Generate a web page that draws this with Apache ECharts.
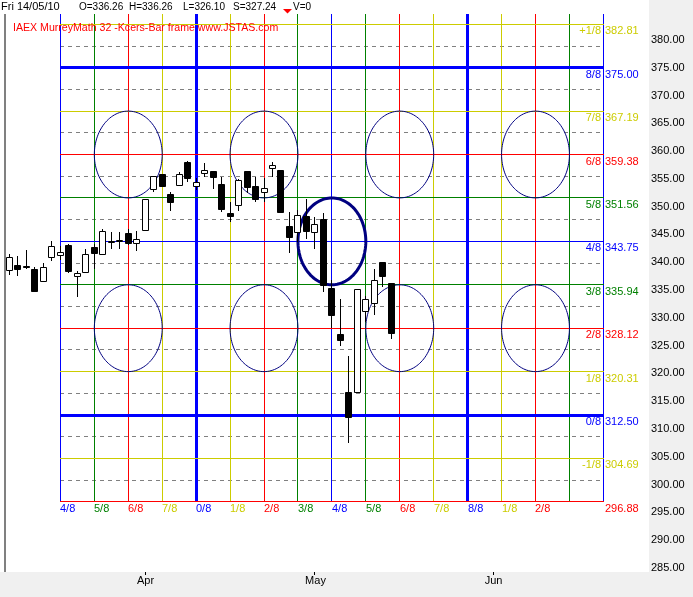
<!DOCTYPE html>
<html><head><meta charset="utf-8">
<script src="https://cdn.jsdelivr.net/npm/echarts@6/dist/echarts.min.js"></script>
<style>html,body{margin:0;padding:0;background:#F0F0F0}#c{width:693px;height:597px}</style>
</head><body><div id="c"></div>
<script>
// ---- data (bar index 0 = first bar on the left; weekday trading bars) ----
const barOpen  = [338.60,339.50,339.40,338.78,336.67,340.88,341.35,343.09,337.46,338.18,342.68,341.42,343.74,343.97,345.20,343.45,345.74,353.12,355.87,352.27,353.89,357.98,353.71,356.10,356.41,354.07,348.80,350.24,356.41,353.71,352.58,356.90,356.59,346.51,345.38,348.31,345.38,347.72,335.36,327.08,316.64,316.59,331.27,332.60,340.04,336.26];
const barHigh  = [341.47,341.11,342.19,339.08,339.85,343.81,342.97,343.22,338.47,342.37,343.27,345.97,345.43,345.38,345.97,345.61,351.32,355.46,355.87,352.58,356.18,358.21,355.21,357.80,356.41,355.39,350.89,354.92,356.41,355.39,355.15,358.08,356.59,348.98,349.39,351.37,348.19,348.91,336.80,333.38,323.12,335.18,333.97,338.78,340.04,336.26];
const barLow   = [337.75,337.52,338.72,334.69,336.60,340.27,340.39,338.11,333.79,338.18,338.78,341.42,342.32,342.32,343.15,342.07,345.74,352.69,353.48,349.27,353.89,354.38,352.99,355.39,353.12,349.09,347.23,349.21,352.45,350.89,350.89,355.39,348.98,341.71,343.63,344.12,342.32,334.69,328.10,324.97,307.52,316.59,329.29,330.55,335.48,326.10];
const barClose = [340.88,338.83,339.33,334.87,339.08,342.97,341.78,338.47,338.00,341.42,341.60,345.56,343.78,344.01,343.51,344.12,351.32,355.46,353.77,350.78,355.82,355.21,354.38,356.54,355.39,349.63,348.31,354.74,353.59,351.32,353.30,357.49,348.98,344.48,348.49,345.67,346.82,335.84,330.55,326.00,312.20,335.18,333.38,336.80,337.52,327.24];
const headerDate = 'Fri 14/05/10';
const headerVolume = 'V=0';
const titleText = 'IAEX MurreyMath 32 -Kcers-Bar frame www.JSTAS.com';

const monthLabels   = ['Apr', 'May', 'Jun'];
const monthBarIndex = [16, 36, 57];

const levelValues = [382.81, 375.00, 367.19, 359.38, 351.56, 343.75, 335.94, 328.12, 320.31, 312.50, 304.69, 296.88];
const levelNames  = ['+1/8', '8/8', '7/8', '6/8', '5/8', '4/8', '3/8', '2/8', '1/8', '0/8', '-1/8', ''];

const verticalBarIndex = [6, 10, 14, 18, 22, 26, 30, 34, 38, 42, 46, 50, 54, 58, 62, 66, 70];
const verticalNames    = ['4/8','5/8','6/8','7/8','0/8','1/8','2/8','3/8','4/8','5/8','6/8','7/8','8/8','1/8','2/8','',''];

const ellipseCenterBar   = [14, 30, 46, 62, 14, 30, 46, 62, 38];
const ellipseCenterValue = [359.38, 359.38, 359.38, 359.38, 328.12, 328.12, 328.12, 328.12, 343.75];
const ellipseBold        = [0, 0, 0, 0, 0, 0, 0, 0, 1];
const ellipseRadiusBars  = 4;

// ---- styles ----
const YEL = '#CCCC00', BLU = '#0000FF', GRN = '#008000', RED = '#FF0000', NAVY = '#000080';
const FAM = '"Liberation Sans", Arial, sans-serif';
const FONT = '11px ' + FAM;
const HFONT = '10px ' + FAM;
const TFONT = '10.6px ' + FAM;
const levelColors = [YEL, BLU, YEL, RED, GRN, BLU, GRN, RED, YEL, BLU, YEL, RED];
const levelWidths = [1, 3, 1, 1, 1, 1, 1, 1, 1, 3, 1, 1];
const verticalColors = [BLU, GRN, RED, YEL, BLU, YEL, RED, GRN, BLU, GRN, RED, YEL, BLU, YEL, RED, GRN, BLU];
const verticalWidths = [1, 1, 1, 1, 3, 1, 1, 1, 1, 1, 1, 1, 3, 1, 1, 1, 1];
const PLOT_TOP = 14, PLOT_BOTTOM = 572, PLOT_RIGHT = 649;

function crisp(v, w) { return (Math.round(w) % 2 === 1) ? Math.floor(v) + 0.5 : Math.round(v); }

const chart = echarts.init(document.getElementById('c'), null, {renderer: 'canvas'});
const lastBar = barOpen.length - 1;
const vStart = verticalBarIndex[0], vEnd = verticalBarIndex[verticalBarIndex.length - 1];
const levelStep = levelValues[0] - levelValues[1];

const midValues = [];
for (let i = 0; i < levelValues.length - 1; i++) midValues.push((levelValues[i] + levelValues[i + 1]) / 2);

const option = {
  backgroundColor: '#F0F0F0',
  animation: false,
  grid: {left: 6, right: 45, top: 12.13, bottom: 1.37, containLabel: false, outerBoundsMode: 'none'},
  xAxis: {type: 'value', min: -0.41, max: 75.26, show: false},
  yAxis: {
    type: 'value', position: 'right', min: 280, max: 385, interval: 5,
    axisLine: {show: false}, axisTick: {show: false}, splitLine: {show: false},
    axisLabel: {show: true, margin: 3, color: '#000', fontSize: 11, fontFamily: FAM,
      showMinLabel: false, showMaxLabel: false, formatter: v => v.toFixed(2)}
  },
  graphic: {elements: [
    {type: 'rect', z: -100, shape: {x: 0, y: 0, width: PLOT_RIGHT, height: PLOT_BOTTOM}, style: {fill: '#FFFFFF'}},
    {type: 'rect', z: 100, shape: {x: 4, y: PLOT_TOP, width: 2, height: PLOT_BOTTOM - PLOT_TOP}, style: {fill: '#808080'}},
    {type: 'text', z: 100, x: 1, y: 7, style: {text: headerDate, fill: '#000', font: FONT, verticalAlign: 'middle'}},
    {type: 'text', z: 100, x: 79, y: 7, style: {text: 'O=' + barOpen[lastBar].toFixed(2), fill: '#000', font: HFONT, verticalAlign: 'middle'}},
    {type: 'text', z: 100, x: 129, y: 7, style: {text: 'H=' + barHigh[lastBar].toFixed(2), fill: '#000', font: HFONT, verticalAlign: 'middle'}},
    {type: 'text', z: 100, x: 183, y: 7, style: {text: 'L=' + barLow[lastBar].toFixed(2), fill: '#000', font: HFONT, verticalAlign: 'middle'}},
    {type: 'text', z: 100, x: 233, y: 7, style: {text: 'S=' + barClose[lastBar].toFixed(2), fill: '#000', font: HFONT, verticalAlign: 'middle'}},
    {type: 'polygon', z: 100, shape: {points: [[283, 9], [292, 9], [287.5, 13.5]]}, style: {fill: RED}},
    {type: 'text', z: 100, x: 293, y: 7, style: {text: headerVolume, fill: '#000', font: HFONT, verticalAlign: 'middle'}},
    {type: 'text', z: 100, x: 13, y: 28, style: {text: titleText, fill: RED, font: TFONT, verticalAlign: 'middle'}}
  ]},
  series: [
    // dashed 1/16 lines
    {type: 'custom', z: 2, silent: true,
      data: midValues.map(v => [vStart, vEnd, v]), encode: {x: [0, 1], y: 2},
      renderItem: (params, api) => {
        const a = api.coord([api.value(0), api.value(2)]);
        const b = api.coord([api.value(1), api.value(2)]);
        const y = crisp(a[1], 1);
        return {type: 'line', shape: {x1: Math.round(a[0]), y1: y, x2: Math.round(b[0]), y2: y},
          style: {stroke: '#808080', lineWidth: 1, lineDash: [4, 4]}};
      }},
    // vertical murrey lines
    {type: 'custom', z: 3, silent: true,
      data: verticalBarIndex.map((x, i) => [x, levelValues[levelValues.length - 1], i]), encode: {x: 0, y: 1},
      renderItem: (params, api) => {
        const i = api.value(2);
        const p = api.coord([api.value(0), api.value(1)]);
        const w = verticalWidths[i];
        const x = crisp(p[0], w);
        const yb = Math.round(p[1]);
        const ch = [{type: 'line', shape: {x1: x, y1: PLOT_TOP, x2: x, y2: yb}, style: {stroke: verticalColors[i], lineWidth: w}}];
        if (verticalNames[i]) ch.push({type: 'text', x: Math.round(p[0]), y: yb + 1,
          style: {text: verticalNames[i], fill: verticalColors[i], font: FONT, align: 'left', verticalAlign: 'top'}});
        return {type: 'group', children: ch};
      }},
    // horizontal murrey lines with labels
    {type: 'custom', z: 4, silent: true,
      data: levelValues.map((v, i) => [vStart, vEnd, v, i]), encode: {x: [0, 1], y: 2},
      renderItem: (params, api) => {
        const i = api.value(3);
        const a = api.coord([api.value(0), api.value(2)]);
        const b = api.coord([api.value(1), api.value(2)]);
        const w = levelWidths[i];
        const y = crisp(a[1], w);
        const x1 = Math.round(a[0]), x2 = Math.round(b[0]) + 1;
        const ch = [{type: 'line', shape: {x1: x1, y1: y, x2: x2, y2: y}, style: {stroke: levelColors[i], lineWidth: w}}];
        if (levelNames[i]) ch.push({type: 'text', x: x2 - 3, y: Math.round(a[1]) + 1,
          style: {text: levelNames[i], fill: levelColors[i], font: FONT, align: 'right', verticalAlign: 'top'}});
        ch.push({type: 'text', x: x2 + 1, y: Math.round(a[1]) + 1,
          style: {text: levelValues[i].toFixed(2), fill: levelColors[i], font: FONT, align: 'left', verticalAlign: 'top'}});
        return {type: 'group', children: ch};
      }},
    // ellipses
    {type: 'custom', z: 5, silent: true,
      data: ellipseCenterBar.map((x, i) => [x, ellipseCenterValue[i], i]), encode: {x: 0, y: 1},
      renderItem: (params, api) => {
        const i = api.value(2);
        const c = api.coord([api.value(0), api.value(1)]);
        const r = api.coord([api.value(0) + ellipseRadiusBars, api.value(1) + levelStep]);
        const rx = Math.abs(r[0] - c[0]), ry = Math.abs(r[1] - c[1]);
        const pts = [];
        for (let k = 0; k <= 120; k++) { const t = k / 120 * Math.PI * 2; pts.push([c[0] + rx * Math.cos(t), c[1] + ry * Math.sin(t)]); }
        return {type: 'polyline', shape: {points: pts},
          style: {stroke: NAVY, lineWidth: ellipseBold[i] ? 3 : 1, fill: null}};
      }},
    // candles
    {type: 'custom', z: 6, silent: true,
      data: barOpen.map((o, i) => [i, o, barClose[i], barLow[i], barHigh[i]]), encode: {x: 0, y: [1, 2, 3, 4]},
      renderItem: (params, api) => {
        const xv = api.value(0), o = api.value(1), c = api.value(2);
        const po = api.coord([xv, o]), pc = api.coord([xv, c]);
        const pl = api.coord([xv, api.value(3)]), ph = api.coord([xv, api.value(4)]);
        const x = crisp(po[0], 1);
        const up = c >= o;
        const top = Math.round(Math.min(po[1], pc[1])), bot = Math.round(Math.max(po[1], pc[1]));
        const ch = [{type: 'line', shape: {x1: x, y1: Math.round(ph[1]), x2: x, y2: Math.round(pl[1])}, style: {stroke: '#000', lineWidth: 1}}];
        ch.push({type: 'rect', shape: {x: x - 3, y: top + 0.5, width: 6, height: Math.max(1, bot - top)},
          style: {fill: up ? '#FFFFFF' : '#000000', stroke: '#000', lineWidth: 1}});
        return {type: 'group', children: ch};
      }},
    // month ticks & labels
    {type: 'custom', z: 7, silent: true,
      data: monthBarIndex.map((x, i) => [x, 300, i]), encode: {x: 0, y: 1},
      renderItem: (params, api) => {
        const i = api.value(2);
        const p = api.coord([api.value(0), api.value(1)]);
        const x = crisp(p[0], 1);
        return {type: 'group', children: [
          {type: 'line', shape: {x1: x, y1: PLOT_BOTTOM, x2: x, y2: PLOT_BOTTOM + 3}, style: {stroke: '#000', lineWidth: 1}},
          {type: 'text', x: Math.round(p[0]) + 0.5, y: PLOT_BOTTOM + 9,
            style: {text: monthLabels[i], fill: '#000', font: FONT, align: 'center', verticalAlign: 'middle'}}
        ]};
      }}
  ]
};
chart.setOption(option);
</script>
</body></html>
